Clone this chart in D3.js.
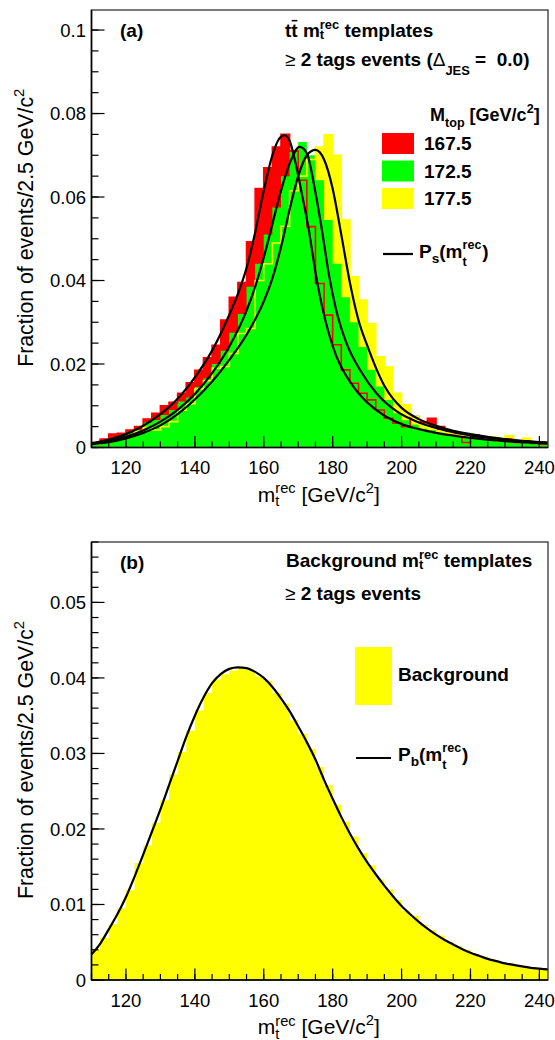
<!DOCTYPE html>
<html>
<head>
<meta charset="utf-8">
<script src="https://cdn.jsdelivr.net/npm/d3@7"></script>
<style>
body { margin: 0; background: #fff; }
svg { display: block; font-family: "Liberation Sans", Arial, Helvetica, sans-serif; }
</style>
</head>
<body>
<script>
// ---- data ----
// histograms: 2.5 GeV bins starting at 110 GeV
var binStart = 110
var binWidth = 2.5
var xTickLabels = [120, 140, 160, 180, 200, 220, 240]

var massLabels = ["167.5", "172.5", "177.5"]

var hist1675 = [0.0012, 0.0020, 0.0032, 0.0034, 0.0042, 0.0050, 0.0068, 0.0082, 0.0100, 0.0108,
	0.0130, 0.0155, 0.0185, 0.0215, 0.0245, 0.0305, 0.0360, 0.0395, 0.0493, 0.0620,
	0.0670, 0.0720, 0.0750, 0.0710, 0.0640, 0.0529, 0.0393, 0.0317, 0.0246, 0.0186,
	0.0154, 0.0130, 0.0114, 0.0090, 0.0070, 0.0058, 0.0050, 0.0074, 0.0062, 0.0070,
	0.0050, 0.0040, 0.0032, 0.0012, 0.0030, 0.0022, 0.0018, 0.0015, 0.0020, 0.0012,
	0.0016, 0.0010, 0.0008]
var hist1725 = [0.0010, 0.0014, 0.0020, 0.0028, 0.0036, 0.0042, 0.0060, 0.0066, 0.0078, 0.0090,
	0.0110, 0.0120, 0.0145, 0.0165, 0.0200, 0.0232, 0.0275, 0.0320, 0.0385, 0.0440,
	0.0510, 0.0575, 0.0650, 0.0713, 0.0732, 0.0700, 0.0640, 0.0545, 0.0440, 0.0360,
	0.0300, 0.0241, 0.0186, 0.0146, 0.0114, 0.0082, 0.0065, 0.0055, 0.0045, 0.0042,
	0.0036, 0.0032, 0.0028, 0.0022, 0.0020, 0.0018, 0.0016, 0.0014, 0.0012, 0.0010,
	0.0014, 0.0012, 0.0008]
var hist1775 = [0.0008, 0.0012, 0.0018, 0.0025, 0.0030, 0.0038, 0.0048, 0.0042, 0.0050, 0.0062,
	0.0090, 0.0105, 0.0140, 0.0160, 0.0190, 0.0194, 0.0225, 0.0273, 0.0285, 0.0400,
	0.0440, 0.0490, 0.0530, 0.0615, 0.0650, 0.0690, 0.0720, 0.0749, 0.0700, 0.0545,
	0.0409, 0.0353, 0.0297, 0.0217, 0.0193, 0.0130, 0.0102, 0.0074, 0.0055, 0.0050,
	0.0040, 0.0035, 0.0030, 0.0028, 0.0022, 0.0020, 0.0025, 0.0015, 0.0028, 0.0016,
	0.0022, 0.0012, 0.0012]
var histBkg = [0.0040, 0.0056, 0.0074, 0.0095, 0.0119, 0.0155, 0.0178, 0.0208, 0.0238, 0.0272,
	0.0302, 0.0330, 0.0357, 0.0380, 0.0398, 0.0405, 0.0410, 0.0414, 0.0410, 0.0402,
	0.0396, 0.0380, 0.0366, 0.0344, 0.0326, 0.0306, 0.0282, 0.0258, 0.0232, 0.0210,
	0.0190, 0.0168, 0.0152, 0.0133, 0.0120, 0.0106, 0.0092, 0.0085, 0.0073, 0.0066,
	0.0059, 0.0050, 0.0045, 0.0040, 0.0034, 0.0031, 0.0027, 0.0024, 0.0022, 0.0019,
	0.0017, 0.0016, 0.0014]

// fitted P_s curves (mass, value)
var fitX1675 = [110, 115, 120, 125, 130, 135, 140, 145, 150, 152.5, 155, 157.5, 160, 162.5, 164.5, 166,
	167.5, 169, 171, 173, 175, 177, 179, 181, 183, 185, 187.5, 190, 195, 200, 205, 210, 220, 230, 242.5]
var fitY1675 = [0.0010, 0.0019, 0.0032, 0.0052, 0.0080, 0.0117, 0.0168, 0.0232, 0.0318, 0.0368, 0.0430, 0.0515,
	0.0615, 0.0700, 0.0740, 0.0748, 0.0735, 0.0690, 0.0610, 0.0525, 0.0420, 0.0335, 0.0270, 0.0220, 0.0185,
	0.0158, 0.0130, 0.0108, 0.0076, 0.0056, 0.0044, 0.0035, 0.0023, 0.0015, 0.0010]
var fitX1725 = [110, 115, 120, 125, 130, 135, 140, 145, 150, 155, 157.5, 160, 162.5, 165, 167.5, 170.4, 172.5,
	174.8, 176.7, 179, 181, 184, 188, 192.7, 198.5, 205, 210, 220, 230, 242.5]
var fitY1725 = [0.0009, 0.0016, 0.0026, 0.0041, 0.0062, 0.0090, 0.0128, 0.0178, 0.0242, 0.0328, 0.0385, 0.0455,
	0.0535, 0.0615, 0.0680, 0.0720, 0.0705, 0.0620, 0.0530, 0.0410, 0.0330, 0.0250, 0.0185, 0.0130, 0.0087,
	0.0060, 0.0047, 0.0029, 0.0019, 0.0011]
var fitX1775 = [110, 115, 120, 125, 130, 135, 140, 145, 150, 155, 160, 162.5, 165, 167.5, 170, 172.5, 175, 177.5,
	180, 182.5, 185, 187.5, 190, 192.5, 195, 197.5, 200, 205, 210, 215, 220, 230, 242.5]
var fitY1775 = [0.0008, 0.0013, 0.0022, 0.0035, 0.0053, 0.0080, 0.0115, 0.0158, 0.0210, 0.0270, 0.0350, 0.0405,
	0.0480, 0.0570, 0.0650, 0.0700, 0.0713, 0.0690, 0.0620, 0.0510, 0.0395, 0.0305, 0.0245, 0.0192, 0.0148,
	0.0117, 0.0095, 0.0068, 0.0052, 0.0040, 0.0032, 0.0020, 0.0012]

// fitted P_b curve
var fitXBkg = [110, 112.5, 115, 117.5, 120, 122.5, 125, 127.5, 130, 132.5, 135, 137.5, 140, 142.5, 145, 147.5,
	150, 152.5, 155, 157.5, 160, 162.5, 165, 167.5, 170, 172.5, 175, 177.5, 180, 182.5, 185, 187.5, 190,
	192.5, 195, 197.5, 200, 202.5, 205, 207.5, 210, 212.5, 215, 217.5, 220, 222.5, 225, 227.5, 230, 232.5,
	235, 237.5, 240, 242.5]
var fitYBkg = [0.0034, 0.0048, 0.0067, 0.0087, 0.0110, 0.0137, 0.0166, 0.0196, 0.0226, 0.0258, 0.0290, 0.0322,
	0.0350, 0.0374, 0.0393, 0.0405, 0.0412, 0.0414, 0.0413, 0.0408, 0.0400, 0.0388, 0.0373, 0.0356, 0.0336,
	0.0315, 0.0292, 0.0265, 0.0240, 0.0216, 0.0194, 0.0174, 0.0156, 0.0140, 0.0125, 0.0111, 0.0098, 0.0087,
	0.0077, 0.0068, 0.0060, 0.0053, 0.0047, 0.0041, 0.0036, 0.0032, 0.0028, 0.0025, 0.0022, 0.0020, 0.0018,
	0.0016, 0.0015, 0.0014]

var yTicksA = [0, 0.02, 0.04, 0.06, 0.08, 0.1]
var yTickLabelsA = ["0", "0.02", "0.04", "0.06", "0.08", "0.1"]
var yTicksB = [0, 0.01, 0.02, 0.03, 0.04, 0.05]
var yTickLabelsB = ["0", "0.01", "0.02", "0.03", "0.04", "0.05"]

// ---- stage ----
var W = 555, H = 1040
var left = 91.5, right = 548
var fillCol = ["#ff0000", "#00ff00", "#ffff00"]

var svg = d3.select("body").append("svg").attr("width", W).attr("height", H)
svg.append("rect").attr("width", W).attr("height", H).attr("fill", "#fff")

var x = d3.scaleLinear().domain([110, 242.5]).range([left, right])

// one <text> built from pieces; sup/sub stacks are tspans with their own x,y
function richText(parent, px, py, parts, o) {
	var g = parent.append("g")
	var size = o.size, weight = o.weight || "normal"
	var meas = g.append("text").style("white-space", "pre")
	function width(str, fs, w) {
		meas.style("font-size", fs + "px").style("font-weight", w).text(str)
		return meas.node().getComputedTextLength()
	}
	var runs = [], bars = [], cx = 0
	parts.forEach(function(p) {
		if (p.t != null) {
			var fw = p.w || weight
			var w = width(p.t, size, fw)
			runs.push({x: cx, y: 0, s: size, w: fw, t: p.t})
			if (p.bar) bars.push([cx, w])
			cx += w
		} else {
			var ss = size * (p.scale || 0.7)
			var ws = 0, wb = 0
			if (p.sup) {
				ws = width(p.sup, ss, weight)
				runs.push({x: cx, y: p.supDy != null ? p.supDy : -size * 0.42, s: ss, w: weight, t: p.sup})
			}
			if (p.sub) {
				wb = width(p.sub, ss, weight)
				runs.push({x: cx, y: p.subDy != null ? p.subDy : size * 0.22, s: ss, w: weight, t: p.sub})
			}
			cx += Math.max(ws, wb) + (p.pad || 0)
		}
	})
	meas.remove()
	var txt = g.append("text").style("white-space", "pre")
	runs.forEach(function(r) {
		txt.append("tspan").attr("x", r.x).attr("y", r.y)
			.style("font-size", r.s + "px").style("font-weight", r.w).text(r.t)
	})
	bars.forEach(function(b) {
		g.append("line").attr("x1", b[0] + b[1] * 0.05).attr("x2", b[0] + b[1] * 0.95)
			.attr("y1", -size * 0.86).attr("y2", -size * 0.86)
			.attr("stroke", "#000").attr("stroke-width", size * 0.08)
	})
	var shift = o.anchor == "middle" ? -cx / 2 : (o.anchor == "end" ? -cx : 0)
	g.attr("transform", "translate(" + px + "," + py + ")" + (o.rotate ? " rotate(" + o.rotate + ")" : "") +
		" translate(" + shift + ",0)")
	return g
}

function histPoints(vals) {
	var pts = vals.map(function(v, i) { return [binStart + i * binWidth, v] })
	pts.push([binStart + vals.length * binWidth, vals[vals.length - 1]])
	return pts
}

function drawPanel(p) {
	var y = d3.scaleLinear().domain([0, p.yMax]).range([p.bottom, p.top])
	var g = svg.append("g")
	var clipId = "clip" + p.id
	g.append("clipPath").attr("id", clipId).append("rect")
		.attr("x", left).attr("y", p.top).attr("width", right - left).attr("height", p.bottom - p.top)
	var plot = g.append("g").attr("clip-path", "url(#" + clipId + ")")

	var area = d3.area().x(function(d) { return x(d[0]) }).y0(y(0)).y1(function(d) { return y(d[1]) })
		.curve(d3.curveStepAfter)
	var step = d3.line().x(function(d) { return x(d[0]) }).y(function(d) { return y(d[1]) })
		.curve(d3.curveStepAfter)
	var smooth = d3.line().x(function(d) { return x(d[0]) }).y(function(d) { return y(d[1]) })
		.curve(d3.curveMonotoneX)

	p.fills.forEach(function(f) {
		plot.append("path").attr("d", area(histPoints(f.vals))).attr("fill", f.col)
	})
	p.outlines.forEach(function(f) {
		plot.append("path").attr("d", step(histPoints(f.vals))).attr("fill", "none")
			.attr("stroke", f.col).attr("stroke-width", 1.6)
	})
	p.curves.forEach(function(c) {
		plot.append("path").attr("d", smooth(d3.zip(c.xs, c.ys))).attr("fill", "none")
			.attr("stroke", "#000").attr("stroke-width", 2.2)
	})

	// frame
	g.append("rect").attr("x", left).attr("y", p.top).attr("width", right - left).attr("height", p.bottom - p.top)
		.attr("fill", "none").attr("stroke", "#333").attr("stroke-width", 1.3)

	// x axis, ticks pointing inward
	var xMinor = d3.range(110, 243, 5)
	g.selectAll(".xminor").data(xMinor).enter().append("line")
		.attr("x1", function(d) { return x(d) }).attr("x2", function(d) { return x(d) })
		.attr("y1", p.bottom).attr("y2", p.bottom - 6).attr("stroke", "#000").attr("stroke-width", 1.2)
	g.selectAll(".xmajor").data(xTickLabels).enter().append("line")
		.attr("x1", function(d) { return x(d) }).attr("x2", function(d) { return x(d) })
		.attr("y1", p.bottom).attr("y2", p.bottom - 11.5).attr("stroke", "#000").attr("stroke-width", 1.2)
	g.selectAll(".xlab").data(xTickLabels).enter().append("text")
		.attr("x", function(d) { return x(d) }).attr("y", p.bottom + 26.5)
		.attr("text-anchor", "middle").style("font-size", "18.5px").text(function(d) { return d })

	// y axis
	var yMinor = d3.range(0, p.yMax + 1e-9, p.yMinorStep)
	g.selectAll(".yminor").data(yMinor).enter().append("line")
		.attr("x1", left).attr("x2", left + 7)
		.attr("y1", function(d) { return y(d) }).attr("y2", function(d) { return y(d) })
		.attr("stroke", "#000").attr("stroke-width", 1.2)
	g.selectAll(".ymajor").data(p.yTicks).enter().append("line")
		.attr("x1", left).attr("x2", left + 13)
		.attr("y1", function(d) { return y(d) }).attr("y2", function(d) { return y(d) })
		.attr("stroke", "#000").attr("stroke-width", 1.2)
	g.selectAll(".ylab").data(p.yTicks).enter().append("text")
		.attr("x", left - 5.5).attr("y", function(d) { return y(d) + 6.6 })
		.attr("text-anchor", "end").style("font-size", "18.5px")
		.text(function(d, i) { return p.yTickLabels[i] })
	g.append("line").attr("x1", left).attr("x2", left).attr("y1", p.top).attr("y2", p.bottom)
		.attr("stroke", "#000").attr("stroke-width", 1.6)
	g.append("line").attr("x1", left).attr("x2", right).attr("y1", p.bottom).attr("y2", p.bottom)
		.attr("stroke", "#000").attr("stroke-width", 1.6)

	// axis titles
	richText(g, (left + right) / 2 - 1, p.bottom + 54, [
		{t: "m"}, {sup: "rec", sub: "t", supDy: -8.5, subDy: 4.5}, {t: " [GeV/c"}, {sup: "2", supDy: -9}, {t: "]"}
	], {size: 21, anchor: "middle"})
	richText(g, 33, (p.top + p.bottom) / 2 - 1, [
		{t: "Fraction of events/2.5 GeV/c"}, {sup: "2", supDy: -9}
	], {size: 21.3, anchor: "middle", rotate: -90})

	return y
}

// ---- panel (a) ----
var yA = drawPanel({
	id: "a", top: 10, bottom: 447.5, yMax: 0.1048, yMinorStep: 0.005,
	yTicks: yTicksA, yTickLabels: yTickLabelsA,
	fills: [{vals: hist1675, col: fillCol[0]}, {vals: hist1775, col: fillCol[2]}, {vals: hist1725, col: fillCol[1]}],
	outlines: [{vals: hist1675, col: fillCol[0]}, {vals: hist1775, col: fillCol[2]}],
	curves: [{xs: fitX1675, ys: fitY1675}, {xs: fitX1725, ys: fitY1725}, {xs: fitX1775, ys: fitY1775}]
})

richText(svg, 120, 37, [{t: "(a)"}], {size: 19, weight: "bold"})
richText(svg, 285, 37, [
	{t: "t"}, {t: "t", bar: true}, {t: " m"}, {sup: "rec", sub: "t", supDy: -8, subDy: 1.5, scale: 0.68}, {t: " templates"}
], {size: 19, weight: "bold"})
richText(svg, 285, 66, [
	{t: "\u2265 ", w: "normal"}, {t: "2 tags events ("}, {t: "\u0394", w: "normal"},
	{sub: "JES", subDy: 9, scale: 0.68}, {t: " =  0.0)"}
], {size: 19, weight: "bold"})

// legend
richText(svg, 430, 121, [
	{t: "M"}, {sub: "top", subDy: 6, scale: 0.7}, {t: " [GeV/c"}, {sup: "2", supDy: -8}, {t: "]"}
], {size: 18, weight: "bold"})
var legA = svg.selectAll(".legA").data(massLabels).enter().append("g")
	.attr("transform", function(d, i) { return "translate(382," + (133 + i * 27.5) + ")" })
legA.append("rect").attr("width", 32).attr("height", 21).attr("fill", function(d, i) { return fillCol[i] })
legA.append("text").attr("x", 42).attr("y", 17).style("font-size", "19px").style("font-weight", "bold")
	.text(function(d) { return d })
svg.append("line").attr("x1", 383).attr("x2", 413).attr("y1", 254).attr("y2", 254)
	.attr("stroke", "#000").attr("stroke-width", 2.2)
richText(svg, 419, 258, [
	{t: "P"}, {sub: "s", subDy: 5, scale: 0.72}, {t: "(m"}, {sup: "rec", sub: "t", supDy: -9, subDy: 8, scale: 0.66, pad: 1}, {t: ")"}
], {size: 19, weight: "bold"})

// ---- panel (b) ----
var yB = drawPanel({
	id: "b", top: 542, bottom: 980, yMax: 0.058, yMinorStep: 0.002,
	yTicks: yTicksB, yTickLabels: yTickLabelsB,
	fills: [{vals: histBkg, col: fillCol[2]}],
	outlines: [],
	curves: [{xs: fitXBkg, ys: fitYBkg}]
})

richText(svg, 120, 569, [{t: "(b)"}], {size: 19, weight: "bold"})
richText(svg, 286, 567, [
	{t: "Background m"}, {sup: "rec", sub: "t", supDy: -8, subDy: 1.5, scale: 0.68}, {t: " templates"}
], {size: 19, weight: "bold"})
richText(svg, 285, 600, [{t: "\u2265 ", w: "normal"}, {t: "2 tags events"}], {size: 19, weight: "bold"})

svg.append("rect").attr("x", 355).attr("y", 647).attr("width", 37).attr("height", 58).attr("fill", fillCol[2])
svg.append("text").attr("x", 398).attr("y", 681).style("font-size", "19px").style("font-weight", "bold")
	.text("Background")
svg.append("line").attr("x1", 356).attr("x2", 391).attr("y1", 758).attr("y2", 758)
	.attr("stroke", "#000").attr("stroke-width", 2.2)
richText(svg, 398, 761, [
	{t: "P"}, {sub: "b", subDy: 5, scale: 0.72}, {t: "(m"}, {sup: "rec", sub: "t", supDy: -9, subDy: 8, scale: 0.66, pad: 1}, {t: ")"}
], {size: 19, weight: "bold"})
</script>
</body>
</html>
